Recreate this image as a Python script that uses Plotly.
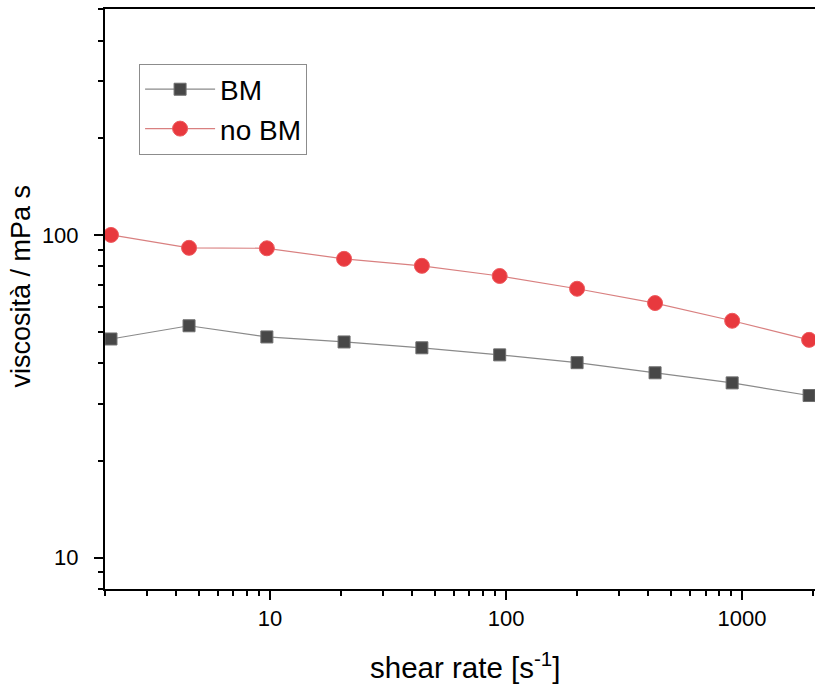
import numpy as np
import plotly.graph_objects as go

# shear rate [1/s]
shear_rate = [2.12, 4.54, 9.7, 20.6, 44, 94, 200, 428, 908, 1923]
# viscosity [mPa s]
visc_bm = [47.6, 52.3, 48.3, 46.6, 44.7, 42.5, 40.2, 37.4, 34.8, 31.8]
visc_no_bm = [100.0, 91.2, 90.9, 84.3, 80.2, 74.6, 68.1, 61.5, 54.2, 47.3]

x_major = [10, 100, 1000]
y_major = [10, 100]
x_minor = [m * d for d in (1, 10, 100, 1000) for m in range(2, 10) if m * d not in x_major]
y_minor = [m * d for d in (1, 10, 100) for m in range(2, 10) if m * d not in y_major]

FONT = "Arial, Liberation Sans, sans-serif"

fig = go.Figure()
fig.add_trace(go.Scatter(
    x=shear_rate, y=visc_bm, name="BM", mode="lines+markers",
    line=dict(color="#8a8a8a", width=1.2),
    marker=dict(symbol="square", size=12, color="#474747",
                line=dict(color="#6e6e6e", width=1)),
))
fig.add_trace(go.Scatter(
    x=shear_rate, y=visc_no_bm, name="no BM", mode="lines+markers",
    line=dict(color="#d98080", width=1.2),
    marker=dict(symbol="circle", size=15, color="#e8393e",
                line=dict(color="#ee5a5e", width=1)),
))

axis_common = dict(
    type="log", showline=True, linecolor="black", linewidth=2,
    ticks="outside", ticklen=9, tickwidth=2, tickcolor="black",
    showgrid=False, zeroline=False,
    tickfont=dict(family=FONT, size=22, color="black"),
)

fig.update_xaxes(
    **axis_common,
    range=[np.log10(2.0), np.log10(2037)],
    tickmode="array", tickvals=x_major, ticktext=[str(v) for v in x_major],
    mirror=True,
    minor=dict(tickmode="array", tickvals=x_minor, ticks="outside",
               ticklen=5, tickwidth=2, tickcolor="black", showgrid=False),
)
fig.update_yaxes(
    **axis_common,
    range=[np.log10(8.0), np.log10(501)],
    tickmode="array", tickvals=y_major, ticktext=[str(v) for v in y_major],
    mirror=False, ticklabelstandoff=11,
    minor=dict(tickmode="array", tickvals=y_minor, ticks="outside",
               ticklen=5, tickwidth=2, tickcolor="black", showgrid=False),
)

fig.update_layout(
    width=815, height=688,
    margin=dict(l=105, r=0, t=9, b=99),
    paper_bgcolor="white", plot_bgcolor="white",
    font=dict(family=FONT, color="black"),
    showlegend=True,
    legend=dict(
        x=0.048, y=0.906, xanchor="left", yanchor="top",
        bordercolor="#8c8c8c", borderwidth=1, bgcolor="white",
        font=dict(family=FONT, size=28, color="black"),
        itemwidth=70, tracegroupgap=0,
    ),
    annotations=[
        dict(text="shear rate [s<sup>-1</sup>]", xref="paper", yref="paper",
             x=0.508, y=-0.097, xanchor="center", yanchor="top", showarrow=False,
             font=dict(family=FONT, size=29.5, color="black")),
        dict(text="viscosità / mPa s", xref="paper", yref="paper",
             x=-0.118, y=0.522, xanchor="center", yanchor="middle", showarrow=False,
             textangle=-90, font=dict(family=FONT, size=27, color="black")),
    ],
)

fig.write_html("out.html")
